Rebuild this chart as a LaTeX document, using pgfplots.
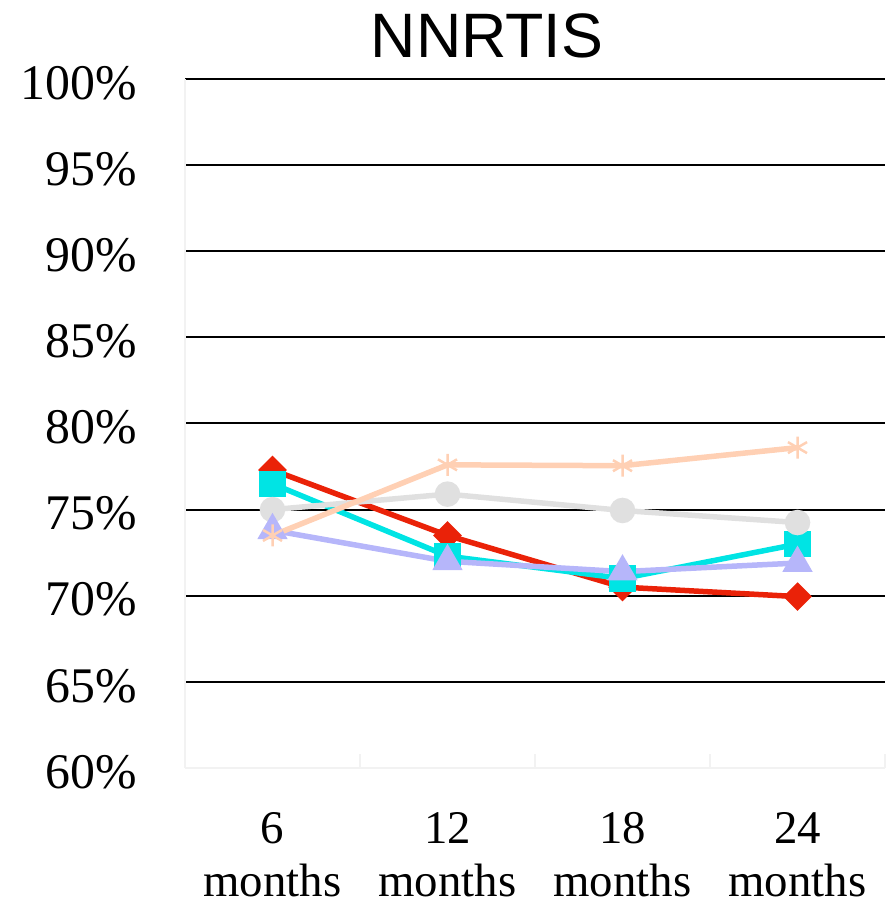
\documentclass[border=0pt]{standalone}
\usepackage{fontspec}
\setmainfont{Liberation Serif}
\newfontfamily\titlefont{Liberation Sans}
\usepackage{pgfplots}
\pgfplotsset{compat=1.18}

\definecolor{cRed}{RGB}{234,34,8}
\definecolor{cCyan}{RGB}{0,228,228}
\definecolor{cGray}{RGB}{224,224,224}
\definecolor{cLav}{RGB}{182,182,250}
\definecolor{cPeach}{RGB}{255,208,180}
\definecolor{cAxis}{RGB}{242,242,242}

\begin{document}
\begin{tikzpicture}
\path[use as bounding box] (0,0) rectangle (887bp,906bp);
\begin{axis}[
  at={(185bp,138bp)}, anchor=south west,
  scale only axis, width=700bp, height=689bp,
  xmin=0.5, xmax=4.5, ymin=60, ymax=100,
  xtick={1,2,3,4},
  xticklabels={{6\\months},{12\\months},{18\\months},{24\\months}},
  ytick={60,65,70,75,80,85,90,95,100},
  yticklabel={\pgfmathprintnumber{\tick}\%},
  /pgf/number format/assume math mode=true,
  extra x ticks={0.5,1.5,2.5,3.5,4.5},
  extra x tick labels={},
  extra x tick style={major tick length=14bp, tick style={draw=cAxis, line width=1.5bp}, grid=none, tick pos=bottom},
  major tick length=0pt,
  tick pos=left,
  ymajorgrids,
  major grid style={black, line width=2bp},
  axis line style={draw=cAxis, line width=1.5bp},
  axis x line*=bottom, axis y line*=left,
  yticklabel style={font=\fontsize{50}{56}\selectfont, anchor=east, inner sep=0pt, xshift=-48bp, yshift=-4bp},
  xticklabel style={font=\fontsize{47}{53}\selectfont, anchor=north, align=center, inner sep=0pt, yshift=-44bp},
  clip=false,
]
\addplot[cRed, line width=5.5bp, mark=square*, mark size=7.4bp, mark options={rotate=45}]
  coordinates {(1,77.3) (2,73.5) (3,70.5) (4,69.95)};
\addplot[cCyan, line width=5.5bp, mark=square*, mark size=10.5bp]
  coordinates {(1,76.5) (2,72.3) (3,71.0) (4,73.0)};
\addplot[cGray, line width=5.5bp, mark=*, mark size=10bp]
  coordinates {(1,75.0) (2,75.9) (3,74.95) (4,74.25)};
\addplot[cLav, line width=5.5bp, mark=triangle*, mark size=12bp]
  coordinates {(1,73.8) (2,72.0) (3,71.4) (4,71.9)};
\addplot[cPeach, line width=5.5bp, mark=asterisk, mark size=11bp, mark options={line width=2.5bp}]
  coordinates {(1,73.5) (2,77.6) (3,77.55) (4,78.6)};
\node[font=\titlefont\fontsize{63}{70}\selectfont, anchor=base] at ({rel axis cs:0.4314,1}) [yshift=21bp] {NNRTIS};
\end{axis}
\end{tikzpicture}
\end{document}
